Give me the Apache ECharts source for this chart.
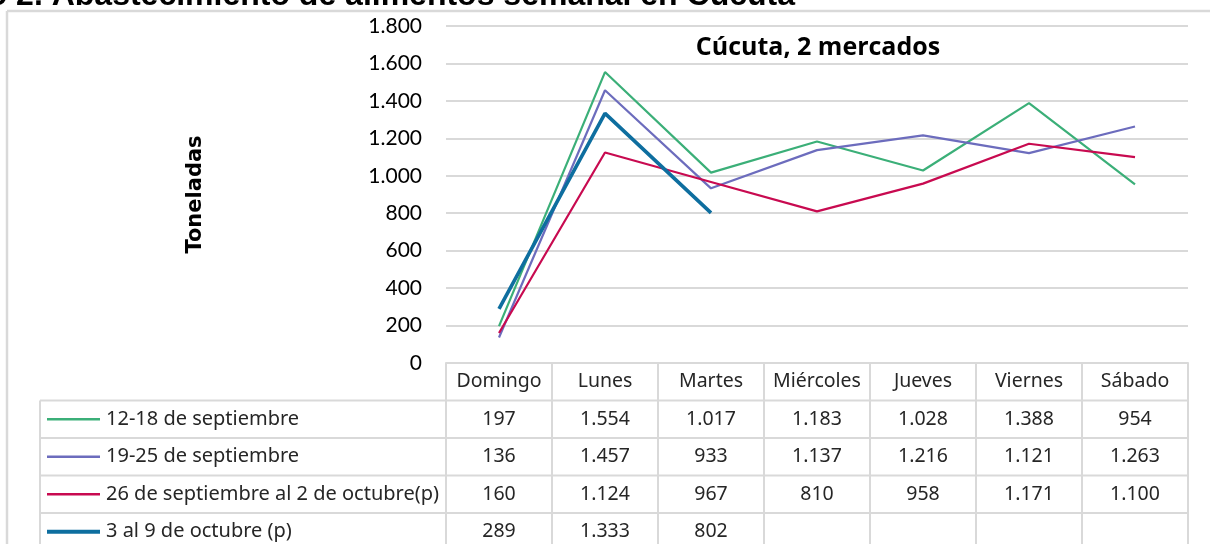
<!DOCTYPE html>
<html><head><meta charset="utf-8">
<script src="https://cdn.jsdelivr.net/npm/echarts@6/dist/echarts.min.js"></script>
<style>html,body{margin:0;padding:0;background:#fff}#c{width:1210px;height:544px}</style>
</head><body><div id="c"></div>
<script>
const categories = ['Domingo','Lunes','Martes','Miércoles','Jueves','Viernes','Sábado'];
const seriesNames = ['12-18 de septiembre','19-25 de septiembre','26 de septiembre al 2 de octubre(p)','3 al 9 de octubre (p)'];
const week1 = [197,1554,1017,1183,1028,1388,954];
const week2 = [136,1457,933,1137,1216,1121,1263];
const week3 = [160,1124,967,810,958,1171,1100];
const week4 = [289,1333,802,null,null,null,null];
const yMin = 0, yMax = 1800, yStep = 200;
const mainTitle = 'Gráfico 2. Abastecimiento de alimentos semanal en Cúcuta';
const chartTitle = 'Cúcuta, 2 mercados';
const yName = 'Toneladas';

const allSeries = [week1, week2, week3, week4];
const colors = ['#3BAF78','#6C6CBD','#C80A50','#0E6E9F'];
const widths = [2.2, 2.2, 2.2, 3.6];
const GRID = '#d9d9d9';
const ROW = 37.5;
const gridLeft = 446, gridRight = 22, gridTop = 26, gridBottom = 181;
const axisY = 544 - gridBottom;
const tableFont = 'Noto Sans';
const tableSize = 19.5;

function fmt(v){ if (v === null || v === undefined) return ''; return String(v).replace(/\B(?=(\d{3})+(?!\d))/g,'.'); }

const chart = echarts.init(document.getElementById('c'), null, {renderer:'canvas'});

const xAxes = [{
  type:'category', data:categories, gridIndex:0, position:'bottom', boundaryGap:true,
  axisLine:{show:true, lineStyle:{color:GRID, width:2}},
  axisTick:{show:true, interval:0, length:181, lineStyle:{color:GRID, width:2}},
  axisLabel:{interval:0, margin:18.5, verticalAlign:'middle', color:'#262626', fontFamily:tableFont, fontSize:tableSize},
  splitLine:{show:false}
}];
allSeries.forEach((arr, k) => {
  xAxes.push({
    type:'category', data:categories, gridIndex:0, position:'bottom', offset:ROW*(k+1), boundaryGap:true,
    axisLine:{show:false}, axisTick:{show:false}, splitLine:{show:false},
    axisLabel:{interval:0, margin:18.5, verticalAlign:'middle', color:'#262626', fontFamily:tableFont, fontSize:tableSize,
      formatter:(v, i) => fmt(arr[i])}
  });
});

const graphics = [
  {type:'line', shape:{x1:7,y1:11,x2:1210,y2:11}, style:{stroke:GRID, lineWidth:2.5}, silent:true},
  {type:'line', shape:{x1:7,y1:11,x2:7,y2:544}, style:{stroke:GRID, lineWidth:2.5}, silent:true},
  {type:'line', shape:{x1:40,y1:axisY+ROW,x2:40,y2:544}, style:{stroke:GRID, lineWidth:2}, silent:true},
  {type:'text', style:{text:mainTitle, x:795, y:-20, textAlign:'right', textVerticalAlign:'top', font:'bold 32px "Liberation Sans", Arial, sans-serif', fill:'#000'}, silent:true},
  {type:'text', style:{text:chartTitle, x:818, y:48, textAlign:'center', textVerticalAlign:'middle', font:'bold 25px "Open Sans", "Liberation Sans", sans-serif', fill:'#000'}, silent:true}
];
for (let k = 1; k <= seriesNames.length; k++) {
  const y = axisY + ROW*k;
  graphics.push({type:'line', shape:{x1:40,y1:y,x2:1188,y2:y}, style:{stroke:GRID, lineWidth:2}, silent:true});
}
seriesNames.forEach((name, k) => {
  const yc = axisY + ROW*(k+1) + ROW/2;
  graphics.push({type:'line', shape:{x1:47,y1:yc,x2:100,y2:yc}, style:{stroke:colors[k], lineWidth:widths[k]+0.5}, silent:true});
  graphics.push({type:'text', style:{text:name, x:106, y:yc, textAlign:'left', textVerticalAlign:'middle', font:'20px "' + tableFont + '", sans-serif', fill:'#262626'}, silent:true});
});

chart.setOption({
  animation:false,
  backgroundColor:'#fff',
  grid:{left:gridLeft, right:gridRight, top:gridTop, bottom:gridBottom},
  xAxis:xAxes,
  yAxis:{
    type:'value', min:yMin, max:yMax, interval:yStep,
    name:yName, nameLocation:'middle', nameRotate:90, nameGap:240,
    nameTextStyle:{fontFamily:'DejaVu Sans', fontWeight:'bold', fontSize:21, color:'#000'},
    axisLine:{show:false}, axisTick:{show:false},
    axisLabel:{margin:24, color:'#000', fontFamily:'Lato', fontSize:21, formatter:v => fmt(v)},
    splitLine:{show:true, lineStyle:{color:GRID, width:2}}
  },
  series: allSeries.map((arr, k) => ({
    type:'line', name:seriesNames[k], data:arr, xAxisIndex:0, yAxisIndex:0,
    symbol:'none', connectNulls:false,
    lineStyle:{color:colors[k], width:widths[k]}, itemStyle:{color:colors[k]},
    z: k === 3 ? 5 : 3
  })),
  graphic:graphics
});
</script></body></html>
